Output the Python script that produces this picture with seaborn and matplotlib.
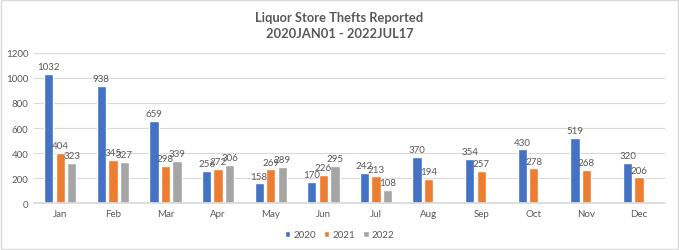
import numpy as np
import pandas as pd
import matplotlib
matplotlib.use("Agg")
import matplotlib.pyplot as plt
import seaborn as sns
from matplotlib.patches import Rectangle

months = ["Jan", "Feb", "Mar", "Apr", "May", "Jun", "Jul", "Aug", "Sep", "Oct", "Nov", "Dec"]
v2020 = [1032, 938, 659, 256, 158, 170, 242, 370, 354, 430, 519, 320]
v2021 = [404, 345, 298, 272, 269, 226, 213, 194, 257, 278, 268, 206]
v2022 = [323, 327, 339, 306, 289, 295, 108, np.nan, np.nan, np.nan, np.nan, np.nan]
years = ["2020", "2021", "2022"]
colors = ["#4472C4", "#ED7D31", "#A5A5A5"]

rows = []
for y, vals in zip(years, [v2020, v2021, v2022]):
    for m, v in zip(months, vals):
        rows.append({"Month": m, "Year": y, "Value": v})
df = pd.DataFrame(rows)

sns.set_theme(style="white")
plt.rcParams['font.family'] = ['Lato', 'DejaVu Sans']

fig = plt.figure(figsize=(6.79, 2.51), dpi=100)
ax = fig.add_axes([0.05, 0.187, 0.93, 0.598])

sns.barplot(data=df, x="Month", y="Value", hue="Year", palette=colors,
            width=0.66, gap=0.2, ax=ax, legend=True, saturation=1)

tc = "#595959"
for cont in ax.containers:
    for bar in cont:
        if bar is None:
            continue
        h = bar.get_height()
        if np.isnan(h):
            continue
        ax.annotate(f"{int(round(h))}", (bar.get_x() + bar.get_width() / 2, h),
                    xytext=(0, 2), textcoords="offset points", ha="center", va="bottom",
                    fontsize=7, color=tc)

ax.set_ylim(0, 1200)
ax.set_yticks(range(0, 1201, 200))
ax.set_xlim(-0.5, 11.5)
ax.yaxis.grid(True, color="#D9D9D9", linewidth=0.8)
ax.set_axisbelow(True)
for s in ["top", "right", "left"]:
    ax.spines[s].set_visible(False)
ax.spines["bottom"].set_color("#D9D9D9")
ax.tick_params(axis="both", labelsize=7, colors=tc, length=0, pad=4)
ax.set_xlabel("")
ax.set_ylabel("")

leg = ax.legend(loc="center", bbox_to_anchor=(0.5, 0.06), bbox_transform=fig.transFigure,
                ncol=3, frameon=False, fontsize=7, handlelength=0.6, handleheight=0.6,
                handletextpad=0.3, columnspacing=0.8)
for t in leg.get_texts():
    t.set_color(tc)

fig.text(0.5, 0.93, "Liquor Store Thefts Reported", ha="center", va="center",
         fontsize=9.3, fontweight="bold", color=tc)
fig.text(0.5, 0.865, "2020JAN01 - 2022JUL17", ha="center", va="center",
         fontsize=9.3, fontweight="bold", color=tc)

fig.patches.append(Rectangle((0.002, 0.004), 0.996, 0.992, transform=fig.transFigure,
                             fill=False, edgecolor="#D9D9D9", linewidth=1))

fig.savefig("out.png", dpi=100)
